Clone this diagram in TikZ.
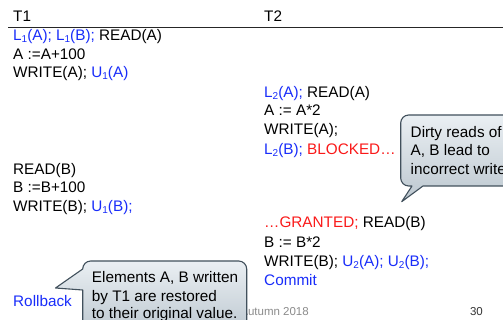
\documentclass[tikz,border=0pt]{standalone}
\usepackage{fontspec}
\setmainfont{Liberation Sans}
\definecolor{lockblue}{RGB}{25,45,250}
\definecolor{alertred}{RGB}{250,25,25}
\definecolor{bubbleedge}{RGB}{65,80,92}
\definecolor{bubbletop}{RGB}{234,239,243}
\definecolor{bubblebot}{RGB}{188,199,207}
\definecolor{footgray}{RGB}{140,140,140}
\newcommand\lk[1]{\textcolor{lockblue}{#1}}
\newcommand\al[1]{\textcolor{alertred}{#1}}
\newcommand\subd[1]{\raisebox{-0.1em}{\fontsize{10}{10}\selectfont #1}}
\tikzset{
  row/.style={anchor=base west, inner sep=0pt, font=\fontsize{15.3}{18}\selectfont},
  foot/.style={anchor=base east, inner sep=0pt, font=\fontsize{11.5}{13}\selectfont},
  headrule/.style={line width=0.9pt, black!85},
  bubble/.style={draw=bubbleedge, line width=1.1pt, top color=bubbletop, bottom color=bubblebot, line join=round},
}
\begin{document}
\begin{tikzpicture}[x=1pt,y=1pt]
\useasboundingbox (0,0) rectangle (503,-320);
\clip (0,0) rectangle (503,-320);
\fill[white] (0,0) rectangle (503,-320);

% column headers
\node[row] (h1) at (13,-21.5) {T1};
\node[row] (h2) at (264,-21.5) {T2};
\coordinate (ruleL) at (8,-27);
\coordinate (ruleR) at (503,-27);
\draw[headrule] (ruleL) -- (ruleR);

% schedule rows
\node[row] (r1)  at (13,-41)    {\lk{L\subd1(A); L\subd1(B);} READ(A)};
\node[row] (r2)  at (13,-59.5)  {A :=A+100};
\node[row] (r3)  at (13,-78)    {WRITE(A); \lk{U\subd1(A)}};
\node[row] (r4)  at (264,-98)   {\lk{L\subd2(A);} READ(A)};
\node[row] (r5)  at (264,-116)  {A := A*2};
\node[row] (r6)  at (264,-135)  {WRITE(A);};
\node[row] (r7)  at (264,-154.5){\lk{L\subd2(B);} \al{BLOCKED…}};
\node[row] (r8)  at (13,-174.5) {READ(B)};
\node[row] (r9)  at (13,-193)   {B :=B+100};
\node[row] (r10) at (13,-211.5) {WRITE(B); \lk{U\subd1(B);}};
\node[row] (r11) at (264,-228)  {\al{…GRANTED;} READ(B)};
\node[row] (r12) at (264,-248)  {B := B*2};
\node[row] (r13) at (264,-266.5){WRITE(B); \lk{U\subd2(A); U\subd2(B);}};
\node[row] (r14) at (264,-285)  {\lk{Commit}};
\node[row] (r15) at (13,-306.5) {\lk{Rollback}};

% footer
\node[foot, text=footgray] (date) at (309,-315) {Autumn 2018};
\node[foot, text=black!80] (page) at (483,-315) {30};

% callout: dirty reads
\path[bubble] (401.7,-201.7) -- (423,-186) -- (515,-186) -- (515,-115)
  -- (408.7,-115) arc[start angle=90, end angle=180, radius=8]
  -- (400.7,-178) arc[start angle=180, end angle=270, radius=8]
  -- (412,-186) -- cycle;
\node[row] (c1a) at (410.5,-137.5) {Dirty reads of};
\node[row] (c1b) at (410.5,-156)   {A, B lead to};
\node[row] (c1c) at (410.5,-174.5) {incorrect write};

% callout: rollback
\path[bubble] (55.5,-288) -- (82.7,-269) arc[start angle=180, end angle=90, radius=8]
  -- (238.7,-261) arc[start angle=90, end angle=0, radius=8]
  -- (246.7,-335) -- (82.7,-335) -- (82.7,-290) -- cycle;
\node[row] (c2a) at (91.7,-282.7) {Elements A, B written};
\node[row] (c2b) at (91.7,-301)   {by T1 are restored};
\node[row] (c2c) at (91.7,-318)   {to their original value.};
\end{tikzpicture}
\end{document}
